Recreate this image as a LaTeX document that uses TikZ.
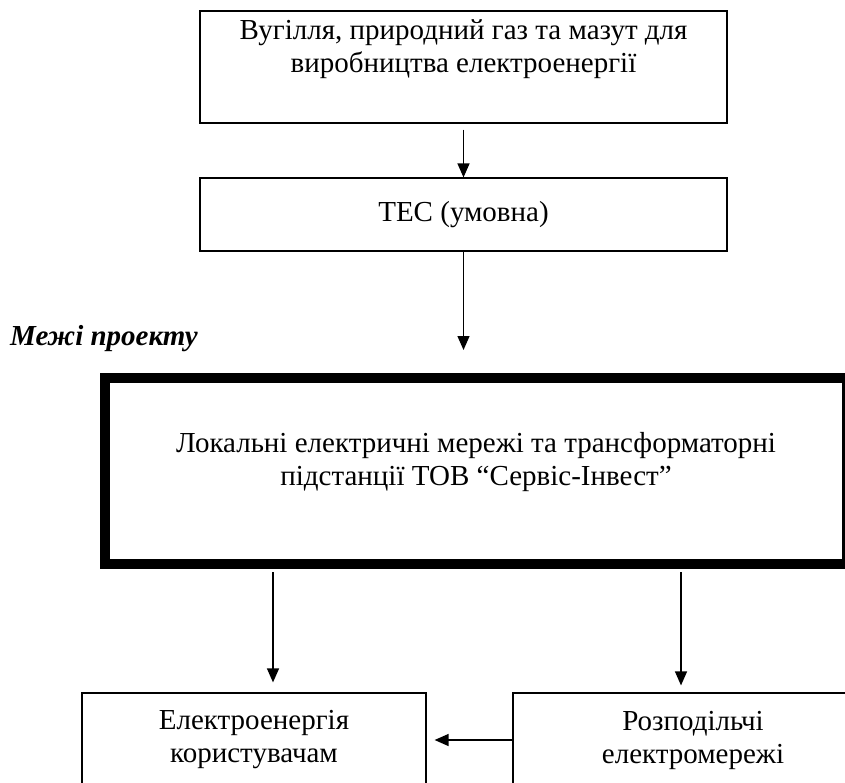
\documentclass[tikz,border=0pt]{standalone}
\usepackage{fontspec}
\setmainfont{Liberation Serif}
\usetikzlibrary{positioning, arrows.meta}
\tikzset{
>={Triangle[length=14pt, width=12pt]}, % filled arrow heads
box/.style={draw, line width=1.2pt, inner sep=0pt, align=center, font=\fontsize{29}{33}\selectfont}, % thin framed box
bigbox/.style={draw, line width=10pt, inner sep=0pt}, % thick box round the project
txt/.style={inner sep=0pt, align=center, font=\fontsize{29}{33}\selectfont}, % free text
flow/.style={->, line width=1.3pt}, % connectors
}

\begin{document}
\begin{tikzpicture}[x=1pt, y=-1pt]
                \useasboundingbox (0,0) rectangle (845,783);
                \clip (0,0) rectangle (845,783);

                \node[box, minimum width=527pt, minimum height=112pt] (fuel) at (463.5,67) {};
                \node[txt, below=9pt of fuel.north] (fueltext) {Вугілля, природний газ та мазут для\\виробництва електроенергії};
                \node[box, minimum width=527pt, minimum height=73pt] (tes) at (463.5,214.5) {ТЕС (умовна)};
                \node[txt, anchor=base west, font=\fontsize{29}{33}\selectfont\bfseries\itshape] (bounds) at (10,345) {Межі проекту};
                \node[bigbox, minimum width=742pt, minimum height=186pt] (grid) at (476,471) {};
                \node[txt, below=59pt of grid.north] (gridtext) {Локальні електричні мережі та трансформаторні\\підстанції ТОВ “Сервіс-Інвест”};
                \node[box, minimum width=344pt, minimum height=94pt] (users) at (254,740) {Електроенергія\\користувачам};
                \node[box, minimum width=360pt, minimum height=94pt] (distrib) at (693,740) {Розподільчі\\електромережі};

                \draw[flow] ([yshift=-6pt]fuel.south) -- (tes.north);
                \draw[flow] (tes.south) -- ([yshift=23pt]tes.south |- grid.north);
                \draw[flow] ([xshift=-203pt, yshift=-3pt]grid.south) -- ([xshift=19pt, yshift=10pt]users.north);
                \draw[flow] ([xshift=205pt, yshift=-3pt]grid.south) -- ([xshift=-12pt, yshift=7pt]distrib.north);
                \draw[flow] (distrib.west) -- ([xshift=8pt]users.east);
            \end{tikzpicture}
\end{document}
